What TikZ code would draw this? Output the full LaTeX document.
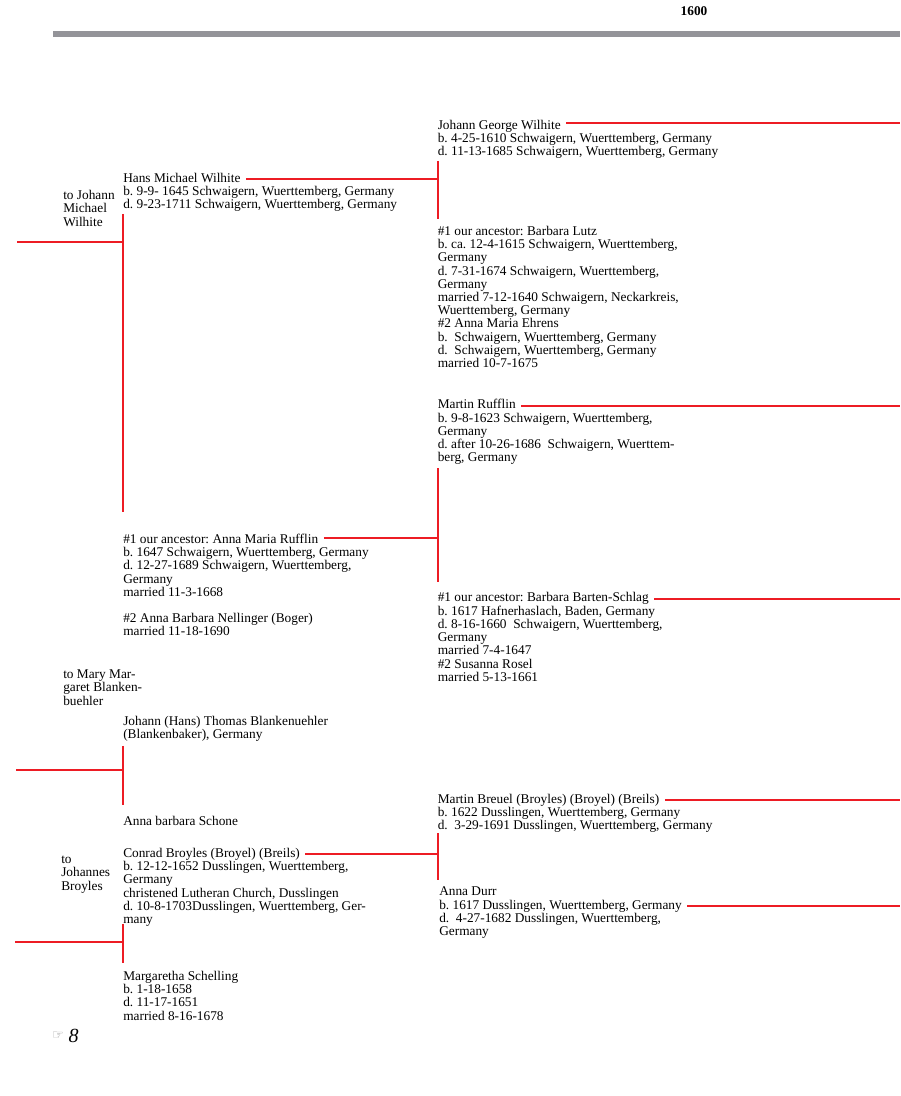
\documentclass[tikz,border=0pt]{standalone}
\usepackage{fontspec}
\setmainfont{Liberation Serif}
\newfontfamily\symfont{DejaVu Sans}
\usetikzlibrary{positioning}
\frenchspacing
\definecolor{barcol}{RGB}{148,148,153}
\definecolor{kinred}{RGB}{237,28,36}
\newcommand{\famfont}{\fontsize{10}{9.9}\selectfont}
\tikzset{
  redline/.style={kinred, line width=1.5pt},
  tie/.style={redline, shorten <=4pt},
  who/.style={font=\famfont, inner sep=0pt, anchor=base west, text height=7.2pt, text depth=2.9pt},
  facts/.style={font=\famfont, inner sep=0pt, anchor=north west, align=left},
  tonote/.style={font=\famfont, inner sep=0pt, anchor=base west, align=left}
}
\begin{document}
\begin{tikzpicture}[x=0.75pt,y=-0.75pt]
\useasboundingbox (0,0) rectangle (900,1096);
\node[font=\bfseries\fontsize{10}{10}\selectfont, inner sep=0pt, anchor=base] (year) at (694,15) {1600};
\fill[barcol] (53,30.5) rectangle (900,36.5);
\coordinate (edge) at (900,0);
% third column, Wilhite and Rufflin
\node[who] (jgw) at (437.5,129) {Johann George Wilhite};
\node[facts] (jgwd) at (jgw.south west) {b. 4-25-1610 Schwaigern, Wuerttemberg, Germany\\d. 11-13-1685 Schwaigern, Wuerttemberg, Germany};
\node[who] (bl) at (437.5,235) {\#1 our ancestor: Barbara Lutz};
\node[facts] (bld) at (bl.south west) {b. ca. 12-4-1615 Schwaigern, Wuerttemberg,\\Germany\\d. 7-31-1674 Schwaigern, Wuerttemberg,\\Germany\\married 7-12-1640 Schwaigern, Neckarkreis,\\Wuerttemberg, Germany\\\#2 Anna Maria Ehrens\\b.\ \ Schwaigern, Wuerttemberg, Germany\\d.\ \ Schwaigern, Wuerttemberg, Germany\\married 10-7-1675};
\node[who] (mr) at (437.5,408.5) {Martin Rufflin};
\node[facts] (mrd) at (mr.south west) {b. 9-8-1623 Schwaigern, Wuerttemberg,\\Germany\\d. after 10-26-1686\ \ Schwaigern, Wuerttem-\\berg, Germany};
\node[who] (bbs) at (437.5,601.5) {\#1 our ancestor: Barbara Barten-Schlag};
\node[facts] (bbsd) at (bbs.south west) {b. 1617 Hafnerhaslach, Baden, Germany\\d. 8-16-1660\ \ Schwaigern, Wuerttemberg,\\Germany\\married 7-4-1647\\\#2 Susanna Rosel\\married 5-13-1661};
% second column
\node[tonote] (tojmw) at (63,226) {to Johann\\Michael\\Wilhite};
\node[who] (hmw) at (123,182) {Hans Michael Wilhite};
\node[facts] (hmwd) at (hmw.south west) {b. 9-9- 1645 Schwaigern, Wuerttemberg, Germany\\d. 9-23-1711 Schwaigern, Wuerttemberg, Germany};
\node[who] (amr) at (123,543) {\#1 our ancestor: Anna Maria Rufflin};
\node[facts] (amrd) at (amr.south west) {b. 1647 Schwaigern, Wuerttemberg, Germany\\d. 12-27-1689 Schwaigern, Wuerttemberg,\\Germany\\married 11-3-1668\\[9.9pt]\#2 Anna Barbara Nellinger (Boger)\\married 11-18-1690};
\node[tonote] (tommb) at (63,705) {to Mary Mar-\\garet Blanken-\\buehler};
\node[who] (jtb) at (123,725) {Johann (Hans) Thomas Blankenuehler};
\node[facts] (jtbd) at (jtb.south west) {(Blankenbaker), Germany};
\node[who] (abs) at (123,825) {Anna barbara Schone};
\node[tonote] (tojb) at (61,890) {to\\Johannes\\Broyles};
\node[who] (cb) at (123,857) {Conrad Broyles (Broyel) (Breils)};
\node[facts] (cbd) at (cb.south west) {b. 12-12-1652 Dusslingen, Wuerttemberg,\\Germany\\christened Lutheran Church, Dusslingen\\d. 10-8-1703Dusslingen, Wuerttemberg, Ger-\\many};
\node[who] (ms) at (123,980) {Margaretha Schelling};
\node[facts] (msd) at (ms.south west) {b. 1-18-1658\\d. 11-17-1651\\married 8-16-1678};
% third column, Breuel
\node[who] (mb) at (437.5,803) {Martin Breuel (Broyles) (Broyel) (Breils)};
\node[facts] (mbd) at (mb.south west) {b. 1622 Dusslingen, Wuerttemberg, Germany\\d.\ \ 3-29-1691 Dusslingen, Wuerttemberg, Germany};
\node[who] (ad) at (439,895) {Anna Durr};
\node[who, anchor=north west] (adb) at (ad.south west) {b. 1617 Dusslingen, Wuerttemberg, Germany};
\node[facts] (add) at (adb.south west) {d.\ \ 4-27-1682 Dusslingen, Wuerttemberg,\\Germany};
% lines to the next generation
\draw[tie] ([yshift=2pt]jgw.east) -- ([yshift=2pt]jgw.east -| edge);
\foreach \p in {mr,bbs,mb,adb} {
\draw[tie] (\p.east) -- (\p.east -| edge);
}
% brackets
\draw[redline, shorten <=1.5pt, shorten >=4.8pt] (jgwd.south west) -- (bl.north west);
\draw[tie] (hmw.east) -- (hmw.east -| jgwd.west);
\draw[redline, shorten <=2.5pt, shorten >=7pt] (mrd.south west) -- (bbs.north west);
\draw[tie] ([yshift=1.5pt]amr.east) -- ([yshift=1.5pt]amr.east -| mrd.west);
\draw[redline, shorten <=0pt, shorten >=4pt] (mbd.south west) -- (mbd.south west |- ad.north);
\draw[tie] (cb.east) -- (cb.east -| mbd.west);
\draw[redline, shorten <=1.5pt, shorten >=16pt] (hmwd.south west) -- (amr.north west);
\coordinate (jmwend) at (17,242);
\draw[redline] (jmwend) -- (jmwend -| hmwd.west);
\draw[redline, shorten <=3pt, shorten >=7.8pt] (jtbd.south west) -- (abs.north west);
\coordinate (mmbend) at (16,770);
\draw[redline] (mmbend) -- (mmbend -| jtbd.west);
\draw[redline, shorten <=-2pt, shorten >=5.5pt] (cbd.south west) -- (ms.north west);
\coordinate (jbend) at (15,942);
\draw[redline] (jbend) -- (jbend -| cbd.west);
% folio
\node[font=\symfont\fontsize{10}{10}\selectfont, text=black!40, inner sep=0pt] (orn) at (58,1036) {☞};
\node[font=\itshape\fontsize{15}{15}\selectfont, inner sep=0pt, right=3pt of orn] (folio) {8};
\end{tikzpicture}
\end{document}
